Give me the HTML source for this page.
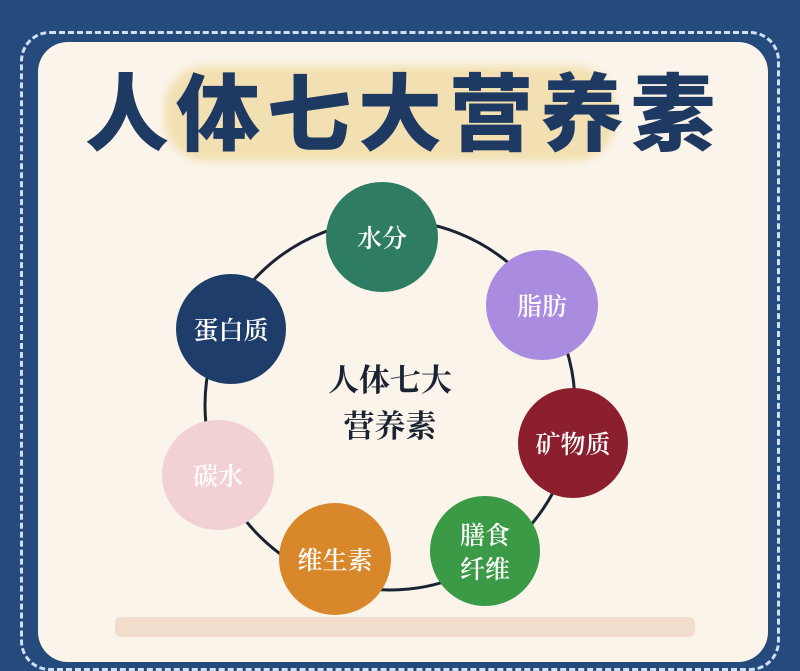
<!DOCTYPE html>
<html><head><meta charset="utf-8"><style>
body{margin:0;width:800px;height:625px;overflow:hidden;background:#244b7c;font-family:"Liberation Sans","Noto Sans CJK SC",sans-serif}
.dash{position:absolute;left:20px;top:31px;width:760px;height:640px;border:3px dashed #cfe0f2;border-radius:30px;box-sizing:border-box}
.panel{position:absolute;left:38px;top:42px;width:730px;height:620px;background:#fbf4ea;border-radius:30px}
.hl{position:absolute;left:165px;top:66px;width:450px;height:95px;background:#f3e0b2;border-radius:40px;filter:blur(4px)}
.title{position:absolute;left:0;width:800px;top:48px;text-align:center;font-size:84px;font-weight:900;color:#1e3a63;letter-spacing:7px;text-indent:7px;font-family:"Noto Sans CJK SC",sans-serif}
.c{position:absolute;border-radius:50%;display:flex;align-items:center;justify-content:center;text-align:center;color:#fff;font-family:"Noto Serif CJK SC",serif;font-weight:600;font-size:25px;line-height:34px}
.center{position:absolute;left:290px;top:355px;width:200px;text-align:center;font-family:"Noto Serif CJK SC",serif;font-weight:700;font-size:31px;line-height:46px;color:#1a2333}
.bar{position:absolute;left:115px;top:617px;width:580px;height:20px;background:#f2dccb;border-radius:6px}
</style></head><body>
<div class="dash"></div>
<div class="panel"></div>
<div class="hl"></div>
<div class="title">人体七大营养素</div>
<svg style="position:absolute;left:0;top:0" width="800" height="625"><circle cx="390" cy="405" r="185" fill="none" stroke="#1a2333" stroke-width="3"/></svg>
<div class="c" style="left:326px;top:182px;width:112px;height:110px;background:#2e7d62">水分</div>
<div class="c" style="left:486px;top:250px;width:112px;height:110px;background:#a98be0">脂肪</div>
<div class="c" style="left:518px;top:388px;width:110px;height:110px;background:#8b1f2e">矿物质</div>
<div class="c" style="left:430px;top:496px;width:110px;height:110px;background:#3a9a45">膳食<br>纤维</div>
<div class="c" style="left:279px;top:503px;width:112px;height:112px;background:#d8882a">维生素</div>
<div class="c" style="left:162px;top:420px;width:112px;height:110px;background:#f1d1d3;color:#fff">碳水</div>
<div class="c" style="left:176px;top:274px;width:110px;height:110px;background:#1f3d6b">蛋白质</div>
<div class="center">人体七大<br>营养素</div>
<div class="bar"></div>
</body></html>
